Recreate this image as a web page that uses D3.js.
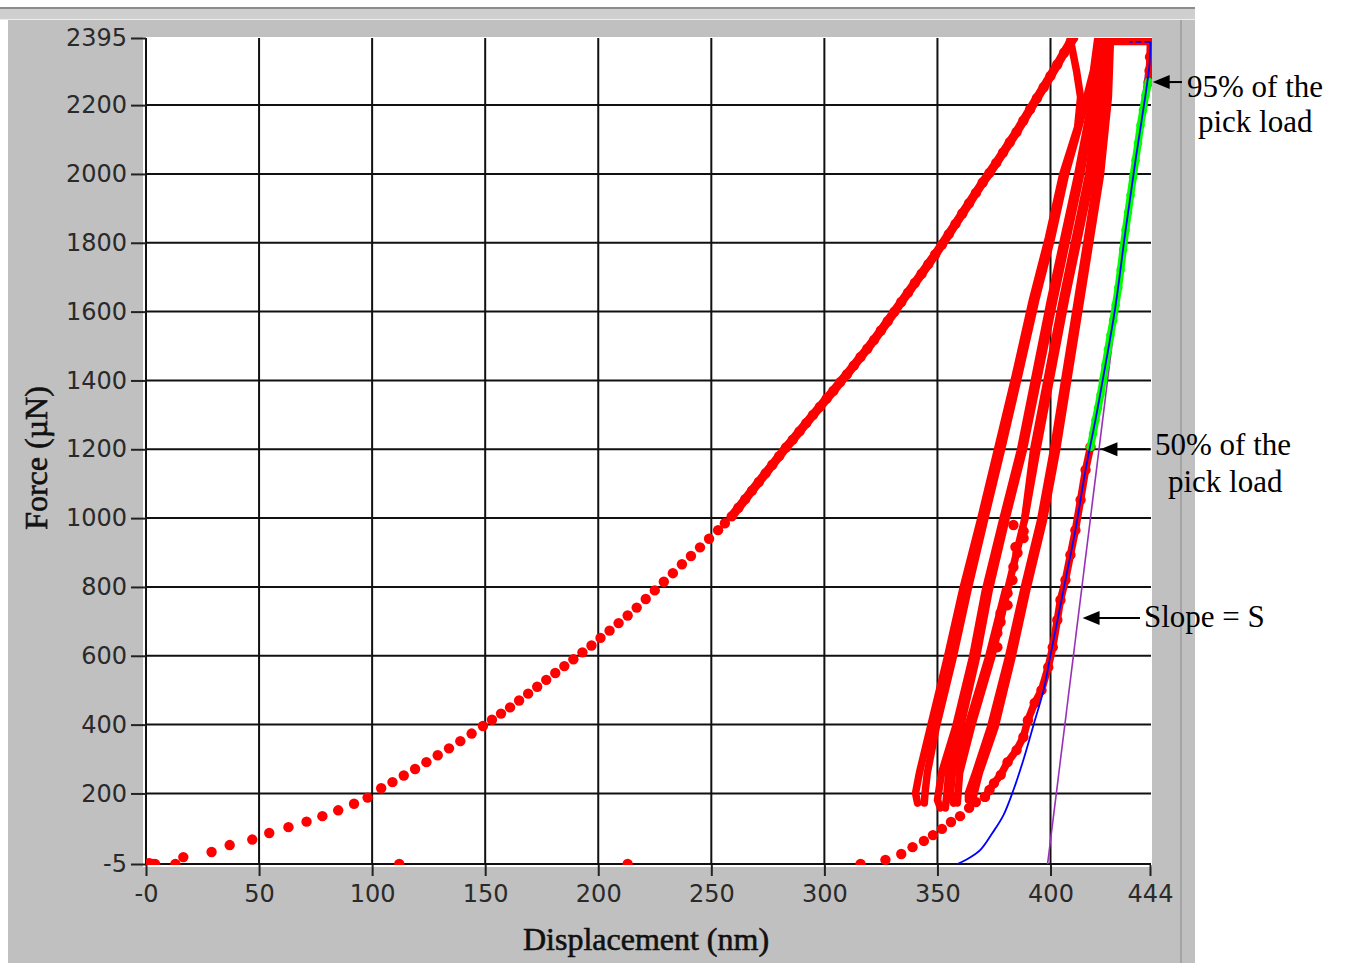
<!DOCTYPE html>
<html>
<head>
<meta charset="utf-8">
<script src="https://cdn.jsdelivr.net/npm/d3@7"></script>
<style>
  body { margin: 0; background: #fff; }
  svg { display: block; }
</style>
</head>
<body>
<script>
// ---- data (displacement nm, force µN) ----
const xTicks = [0, 50, 100, 150, 200, 250, 300, 350, 400, 444];
const xTickLabels = ["-0", "50", "100", "150", "200", "250", "300", "350", "400", "444"];
const yTicks = [-5, 200, 400, 600, 800, 1000, 1200, 1400, 1600, 1800, 2000, 2200, 2395];
const yTickLabels = ["-5", "200", "400", "600", "800", "1000", "1200", "1400", "1600", "1800", "2000", "2200", "2395"];

const loading = [
  [0.5,-5],[1.5,-3],[3,-5],[4,-5],[13,-5],[16.5,15],[29,30],[37,50],[47,66],[54.5,85],[63,102],[71,118],
  [78,134],[85,151],[92,170],[98,188],[104,215],[109,233],[114,252],[119,271],[124,291],[129,311],
  [134,331],[139,352],[144,374],[149,396],[153,414],[157,432],[161,450],[165,470],[169,490],[173,510],
  [177,530],[181,550],[185,570],[189,590],[193,610],[197,630],[201,652],[205,673],[209,695],[213,717],
  [217,740],[221,765],[225,790],[229,815],[233,840],[237,866],[241,890],[245,915],[249,940],[253,965],
  [256,985],[259,1005],[262,1030],[265,1055],[268,1080],[271,1105],[274,1130],[277,1155],[280,1180],
  [283,1205],[286,1228],[289,1252],[292,1276],[295,1300],[298,1323],[301,1347],[304,1370],[307,1395],
  [310,1418],[313,1443],[316,1468],[319,1492],[322,1518],[325,1545],[328,1572],[331,1600],[334,1628],
  [337,1655],[340,1683],[343,1710],[346,1738],[349,1766],[352,1795],[355,1825],[358,1855],[361,1885],
  [364,1915],[367,1945],[370,1975],[373,2003],[376,2032],[379,2062],[382,2092],[385,2122],[388,2155],
  [391,2188],[394,2220],[397,2252],[400,2285],[403,2318],[406,2352],[409,2385],[410,2395]
];
const strayDots = [[112,-5],[213,-5]];

const unload1 = [[408.8,2389],[411.5,2300],[413.3,2223],[412,2136],[405.3,1997],[399.1,1815],[392,1634],[384.5,1416],[376.5,1198],[369,994],[361.1,791],[354.4,596],[346.9,393],[342,259],[340.3,201],[341.2,172]];
const reload1 = [[344.2,172],[344.5,201],[345.5,259],[349.5,393],[357,596],[363.5,791],[370.8,994],[378.3,1198],[386,1416],[393.5,1634],[400.5,1815],[406.6,1997],[412.5,2136],[416,2223],[419,2300],[420.8,2389]];
const unload2 = [[421.7,2389],[418.6,2223],[412,1997],[400,1634],[386.7,1198],[378.8,994],[371.2,791],[365.5,596],[358,393],[351.8,259],[350,181],[351.3,158]];
const reload2 = [[353.5,158],[354.2,201],[355,259],[360.2,393],[367.3,596],[372.9,791],[380.2,994],[388,1198],[401.5,1634],[413.3,1997],[419.6,2223],[422.5,2389]];
const unload3a = [[423.4,2389],[421.5,2223],[416.8,1997],[405.3,1634],[392.5,1198],[388.5,994]];
const unload3b = [[380.1,791],[372.6,596],[363.3,393],[356.6,259],[355.8,201],[357.1,172]];
const reload3 = [[358.8,172],[359.8,259],[365,393],[374,596],[381,791],[388.5,994],[394,1198],[406.6,1634],[418.1,1997],[422.5,2223],[424.3,2389]];
const unload4 = [[424.8,2389],[424.3,2223],[420.8,1997],[412,1634],[401.3,1198],[395.6,994],[388.1,791],[381.4,596],[373.5,393],[366.8,259],[363.7,201],[363.7,181]];
const reload4 = [[365.5,181],[368.5,259],[375.5,393],[383,596],[389.5,791],[396.9,994],[402.7,1198],[413.3,1634],[422.1,1997],[425.6,2223],[426.5,2389]];
const holdTop = [[421,2385],[444.2,2385]];
const looseDots = [[383.6,980],[388.1,962],[388.1,942],[384.5,916],[385.4,899],[383.6,858],[383.2,820],[381,782],[381,747],[377.9,724],[377.9,698],[376.5,666],[376.5,625]];

const finalTail = [[316,-5],[327,7],[334,24],[339,44],[344,62],[348,79],[352,97],[356,117],[360,134],[364,158],[367,175],[371,190]];
const finalLow = [[371,190],[373,210],[375,230],[378,254],[381,291],[385,326],[388,364],[390,413],[393,463],[396,500],[399,567],[401,625],[403,704],[404.4,762],[406.6,820],[408.8,893],[411,965],[413.3,1053],[415.5,1140],[417.7,1207]];
const finalTop = [[443.4,2267],[443.8,2300],[444,2340],[444.2,2385]];
const fitRange = [[417.7,1207],[418.8,1245],[419.9,1285],[421,1320],[422.1,1358],[423.2,1400],[424.3,1445],[425.4,1490],[426.5,1532],[427.7,1575],[428.8,1619],[430,1670],[431,1721],[432.1,1780],[433.2,1837],[434.3,1888],[435.4,1939],[436.5,1990],[437.6,2040],[438.7,2090],[439.8,2142],[440.9,2185],[442,2229],[443.4,2267]];
const powerFit = [[358.8,-5],[363.3,9.5],[369,36],[374.3,85],[379.2,137],[383.6,210],[388,297],[392.5,399],[396.9,500],[400,602],[403.1,704],[406.6,820],[411,965],[415.5,1140],[420,1290],[424.3,1445],[428.8,1619],[433.2,1837],[437.6,2040],[442,2229],[443.8,2320],[444.2,2384]];
const powerFitCap = [[444.2,2384],[435,2384]];
const slopeLine = [[398.7,-5],[444,2395]];

const noteLabels = [["95% of the", "pick load"], ["50% of the", "pick load"], ["Slope = S"]];
const noteTargets = [[444.3,2267], [421.2,1200], [413.3,710]];

function render() {
  const W = 1349, H = 963;
  const x = d3.scaleLinear().domain([0, 444]).range([146, 1150]);
  const y = d3.scaleLinear().domain([-5, 2395]).range([864, 38]);

  const svg = d3.select("body")
    .append("svg")
    .attr("width", W)
    .attr("height", H);

  // window frame
  svg.append("rect").attr("x", 0).attr("y", 7).attr("width", 1195).attr("height", 2).attr("fill", "#8c8c8c");
  svg.append("rect").attr("x", 0).attr("y", 9).attr("width", 1195).attr("height", 10).attr("fill", "#cfcfcf");
  svg.append("rect").attr("x", 0).attr("y", 19).attr("width", 1195).attr("height", 1).attr("fill", "#eeeeee");
  svg.append("rect").attr("x", 8).attr("y", 20).attr("width", 1187).attr("height", 943).attr("fill", "#c0c0c0");
  svg.append("rect").attr("x", 1180).attr("y", 20).attr("width", 2).attr("height", 943).attr("fill", "#a4a4a4");

  svg.append("rect")
    .attr("x", 143).attr("y", 37)
    .attr("width", 1009).attr("height", 830)
    .attr("fill", "#fff");

  // grid
  const grid = svg.append("g").attr("stroke", "#111").attr("stroke-width", 2);
  grid.selectAll("line.h")
    .data(yTicks.filter(d => d !== 2395))
    .enter().append("line")
    .attr("class", "h")
    .attr("x1", x(0)).attr("x2", x(444) + 1)
    .attr("y1", d => y(d)).attr("y2", d => y(d));
  grid.selectAll("line.v")
    .data(xTicks.filter(d => d !== 444))
    .enter().append("line")
    .attr("class", "v")
    .attr("x1", d => x(d)).attr("x2", d => x(d))
    .attr("y1", y(2395)).attr("y2", y(-5));

  // axes
  const yAxis = d3.axisLeft(y)
    .tickValues(yTicks)
    .tickFormat((d, i) => yTickLabels[i])
    .tickSize(15)
    .tickPadding(4);
  const xAxis = d3.axisBottom(x)
    .tickValues(xTicks)
    .tickFormat((d, i) => xTickLabels[i])
    .tickSize(11)
    .tickPadding(9);

  const gy = svg.append("g").attr("transform", "translate(146,0)").call(yAxis);
  const gx = svg.append("g").attr("transform", "translate(0,865)").call(xAxis);
  [gy, gx].forEach(g => {
    g.select(".domain").remove();
    g.attr("font-family", "DejaVu Sans").attr("font-size", 24);
    g.selectAll("line").attr("stroke", "#222").attr("stroke-width", 2);
    g.selectAll("text").attr("fill", "#2a2a2a");
  });

  // data
  svg.append("clipPath").attr("id", "plot")
    .append("rect").attr("x", 146).attr("y", 38).attr("width", 1006).attr("height", 827);
  const plot = svg.append("g").attr("clip-path", "url(#plot)");
  const line = d3.line().x(d => x(d[0])).y(d => y(d[1]));
  const smooth = d3.line().x(d => x(d[0])).y(d => y(d[1])).curve(d3.curveCatmullRom);

  plot.append("path")
    .attr("d", line(slopeLine))
    .attr("fill", "none")
    .attr("stroke", "#9a2fb8")
    .attr("stroke-width", 1.6);

  // dense upper part of the loading curve: dots touch each other
  plot.append("path")
    .attr("d", line(loading.filter(d => d[0] >= 259)))
    .attr("fill", "none")
    .attr("stroke", "#ff0000")
    .attr("stroke-width", 9)
    .attr("stroke-linecap", "round");

  const strands = [unload1, reload1, unload2, reload2, unload3a, unload3b, reload3, unload4, reload4, holdTop, finalLow, finalTop];
  plot.selectAll("path.strand")
    .data(strands)
    .enter().append("path")
    .attr("class", "strand")
    .attr("d", line)
    .attr("fill", "none")
    .attr("stroke", "#ff0000")
    .attr("stroke-width", 7.5)
    .attr("stroke-linejoin", "round")
    .attr("stroke-linecap", "round");

  plot.selectAll("circle.red")
    .data(loading.concat(strayDots, looseDots, finalTail, finalLow, finalTop))
    .enter().append("circle")
    .attr("class", "red")
    .attr("cx", d => x(d[0]))
    .attr("cy", d => y(d[1]))
    .attr("r", 5.2)
    .attr("fill", "#ff0000");

  plot.append("path")
    .attr("d", line(fitRange))
    .attr("fill", "none")
    .attr("stroke", "#00ff00")
    .attr("stroke-width", 7.5)
    .attr("stroke-linecap", "round");
  plot.selectAll("circle.green")
    .data(fitRange)
    .enter().append("circle")
    .attr("class", "green")
    .attr("cx", d => x(d[0]))
    .attr("cy", d => y(d[1]))
    .attr("r", 4.3)
    .attr("fill", "#00ff00");

  plot.append("path")
    .attr("d", smooth(powerFit))
    .attr("fill", "none")
    .attr("stroke", "#0000ff")
    .attr("stroke-width", 1.8);
  plot.append("path")
    .attr("d", line(powerFitCap))
    .attr("fill", "none")
    .attr("stroke", "#0000ff")
    .attr("stroke-width", 1.8)
    .attr("stroke-dasharray", "6,3");

  // titles
  svg.append("text")
    .attr("x", 646).attr("y", 950)
    .attr("text-anchor", "middle")
    .attr("font-family", "Liberation Serif")
    .attr("font-size", 32)
    .attr("stroke", "#111").attr("stroke-width", 0.6)
    .attr("fill", "#111")
    .text("Displacement (nm)");
  svg.append("text")
    .attr("transform", "translate(47,458) rotate(-90)")
    .attr("text-anchor", "middle")
    .attr("font-family", "Liberation Serif")
    .attr("font-size", 32)
    .attr("stroke", "#111").attr("stroke-width", 0.6)
    .attr("fill", "#111")
    .text("Force (µN)");

  // annotations
  const tails = [1182, 1150, 1140];
  const textPos = [[[1187, 97], [1198, 132]], [[1155, 455], [1168, 492]], [[1144, 627]]];
  noteTargets.forEach((t, i) => {
    const tx = x(t[0]) + 2, ty = y(t[1]);
    svg.append("line")
      .attr("x1", tx + 10).attr("x2", tails[i])
      .attr("y1", ty).attr("y2", ty)
      .attr("stroke", "#000").attr("stroke-width", 2);
    svg.append("path")
      .attr("d", `M${tx},${ty} L${tx + 17},${ty - 7} L${tx + 17},${ty + 7} Z`)
      .attr("fill", "#000");
    noteLabels[i].forEach((s, j) => {
      svg.append("text")
        .attr("x", textPos[i][j][0]).attr("y", textPos[i][j][1])
        .attr("font-family", "Liberation Serif")
        .attr("font-size", 31)
        .attr("fill", "#000")
        .text(s);
    });
  });
}

render();
</script>
</body>
</html>
